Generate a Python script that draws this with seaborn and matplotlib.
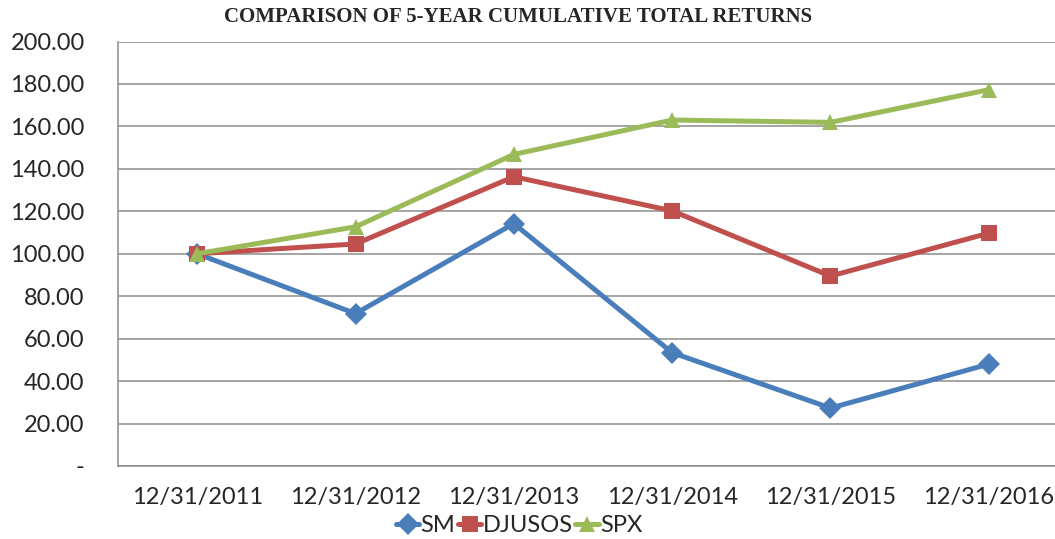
import numpy as np
import pandas as pd
import seaborn as sb
import matplotlib.pyplot as plt
from matplotlib.ticker import FuncFormatter, FixedLocator

dates = ['12/31/2011', '12/31/2012', '12/31/2013', '12/31/2014', '12/31/2015', '12/31/2016']
sm = [100.0, 71.8, 114.2, 53.4, 27.3, 48.0]
djusos = [100.0, 104.6, 136.3, 120.2, 89.5, 109.7]
spx = [100.0, 112.7, 146.8, 163.0, 161.9, 177.3]

series_names = ['SM', 'DJUSOS', 'SPX']
colors = {'SM': '#4A7EBB', 'DJUSOS': '#C0504D', 'SPX': '#9BBB59'}
markers = {'SM': 'D', 'DJUSOS': 's', 'SPX': '^'}

df = pd.DataFrame({'date': dates, 'SM': sm, 'DJUSOS': djusos, 'SPX': spx})
df_long = df.melt(id_vars='date', var_name='series', value_name='value')
df_long['pos'] = df_long['date'].map({d: i for i, d in enumerate(dates)})

sb.set_style('white')
plt.rcParams['font.family'] = ['Lato', 'DejaVu Sans']

fig = plt.figure(figsize=(10.55, 5.39), dpi=100)
# plot area runs past the right edge, like the cropped original
ax = fig.add_axes([118 / 1055, 73 / 539, 950 / 1055, 424.5 / 539])

sb.lineplot(data=df_long, x='pos', y='value', hue='series', style='series',
            hue_order=series_names, style_order=series_names,
            palette=colors, markers=markers, dashes=False,
            linewidth=3.6, markersize=11, markeredgewidth=0, ax=ax)

ax.set_xlim(-0.5, 5.5)
ax.set_ylim(0, 200)
ax.set_yticks(np.arange(0, 201, 20))
ax.yaxis.set_major_formatter(FuncFormatter(lambda v, p: '-' if v == 0 else '%.2f' % v))
ax.grid(axis='y', color='#8c8c8c', linewidth=1.1)
ax.set_axisbelow(True)

ax.set_xticks(range(len(dates)))
ax.set_xticklabels(dates)
ax.xaxis.set_minor_locator(FixedLocator(np.arange(-0.5, 6, 1)))
ax.tick_params(axis='x', which='major', length=0, pad=15, labelsize=17)
ax.tick_params(axis='x', which='minor', length=8, width=1, color='#8c8c8c', direction='out')
ax.tick_params(axis='y', length=8, width=1, color='#8c8c8c', direction='out', labelsize=17, pad=16)

for s in ['top', 'right']:
    ax.spines[s].set_visible(False)
for s in ['left', 'bottom']:
    ax.spines[s].set_color('#8c8c8c')
    ax.spines[s].set_linewidth(1.1)

ax.set_xlabel('')
ax.set_ylabel('')

ax.get_legend().remove()
handles, labels = ax.get_legend_handles_labels()
fig.legend(handles, labels, loc='center', bbox_to_anchor=(519 / 1055, 1 - 526 / 539),
           ncol=3, frameon=False, fontsize=17, handlelength=1.0, handletextpad=0.05,
           columnspacing=0.1, borderpad=0)

fig.text(518 / 1055, 1 - 17 / 539, 'COMPARISON OF 5-YEAR CUMULATIVE TOTAL RETURNS',
         ha='center', va='center', fontsize=15, fontweight='bold',
         family=['Liberation Serif', 'DejaVu Serif'])

fig.savefig('out.png', dpi=100)
